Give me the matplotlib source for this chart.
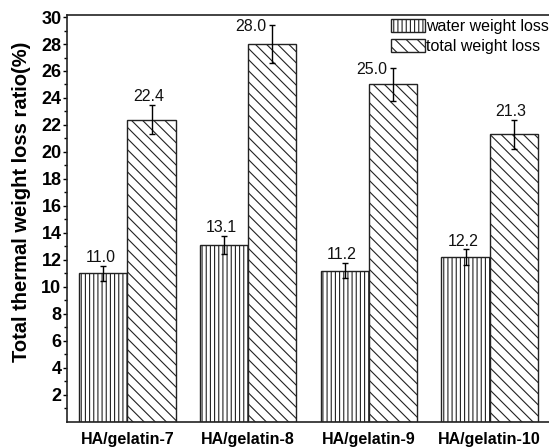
import matplotlib
matplotlib.use("Agg")
import matplotlib.pyplot as plt
import numpy as np

# dati
samples = ["HA/gelatin-7", "HA/gelatin-8", "HA/gelatin-9", "HA/gelatin-10"]
water_loss = [11.0, 13.1, 11.2, 12.2]
water_err = [0.55, 0.7, 0.58, 0.57]
total_loss = [22.4, 28.0, 25.0, 21.3]
total_err = [1.1, 1.4, 1.2, 1.1]

plt.rcParams["font.family"] = ["Liberation Sans", "DejaVu Sans"]
plt.rcParams["hatch.linewidth"] = 0.8

fig = plt.figure(figsize=(5.49, 4.47), dpi=100)
ax = fig.add_axes([0.122, 0.0566, 0.88, 0.9098])

x = np.arange(len(samples))
w = 0.4
ax.bar(x - w / 2, water_loss, w, color="white", edgecolor="#222222",
       hatch="||||", linewidth=1.0, label="water weight loss")
ax.bar(x + w / 2, total_loss, w, color="white", edgecolor="#222222",
       hatch="\\\\\\", linewidth=1.0, label="total weight loss")
ax.errorbar(x - w / 2, water_loss, yerr=water_err, fmt="none", ecolor="black",
            elinewidth=1.0, capsize=2.5, capthick=1.0)
ax.errorbar(x + w / 2, total_loss, yerr=total_err, fmt="none", ecolor="black",
            elinewidth=1.0, capsize=2.5, capthick=1.0)


def put_labels(xs, vals, errs):
    for xi, v, e in zip(xs, vals, errs):
        top = v + e
        if top > 25:
            # troppo in alto: etichetta a sinistra della barra d'errore
            ax.annotate("%.1f" % v, (xi, top), xytext=(-4, -1), textcoords="offset points",
                        ha="right", va="center", fontsize=11.5, color="#111111")
        else:
            ax.annotate("%.1f" % v, (xi, top), xytext=(-2, 0.5), textcoords="offset points",
                        ha="center", va="bottom", fontsize=11.5, color="#111111")


put_labels(x - w / 2, water_loss, water_err)
put_labels(x + w / 2, total_loss, total_err)

ax.set_xlim(-0.5, 3.5)
ax.set_ylim(0, 30.15)
ax.set_yticks(np.arange(2, 31, 2))
ax.set_yticks(np.arange(1, 30, 2), minor=True)
ax.set_xticks(x)
ax.set_xticklabels(samples, fontsize=11.5, fontweight="bold")
for lab in ax.get_yticklabels():
    lab.set_fontweight("bold")
ax.tick_params(axis="y", which="major", direction="out", length=3, width=1.0,
               labelsize=13, pad=1)
ax.tick_params(axis="y", which="minor", direction="out", length=2, width=1.0)
ax.tick_params(axis="x", length=0, pad=7.5)

for s in ["left", "bottom", "top"]:
    ax.spines[s].set_linewidth(1.2)
    ax.spines[s].set_color("#222222")
ax.spines["right"].set_visible(False)

fig.text(0.040, 0.548, "Total thermal weight loss ratio(%)", rotation=90,
         ha="center", va="center", fontsize=14.5, fontweight="bold")

ax.legend(loc="upper right", bbox_to_anchor=(1.0, 0.958), bbox_transform=fig.transFigure,
          frameon=False, fontsize=11.5, handlelength=2.1, handleheight=0.85,
          handletextpad=0.1, labelspacing=0.35, borderaxespad=0, borderpad=0)

fig.savefig("out.png", dpi=100)
